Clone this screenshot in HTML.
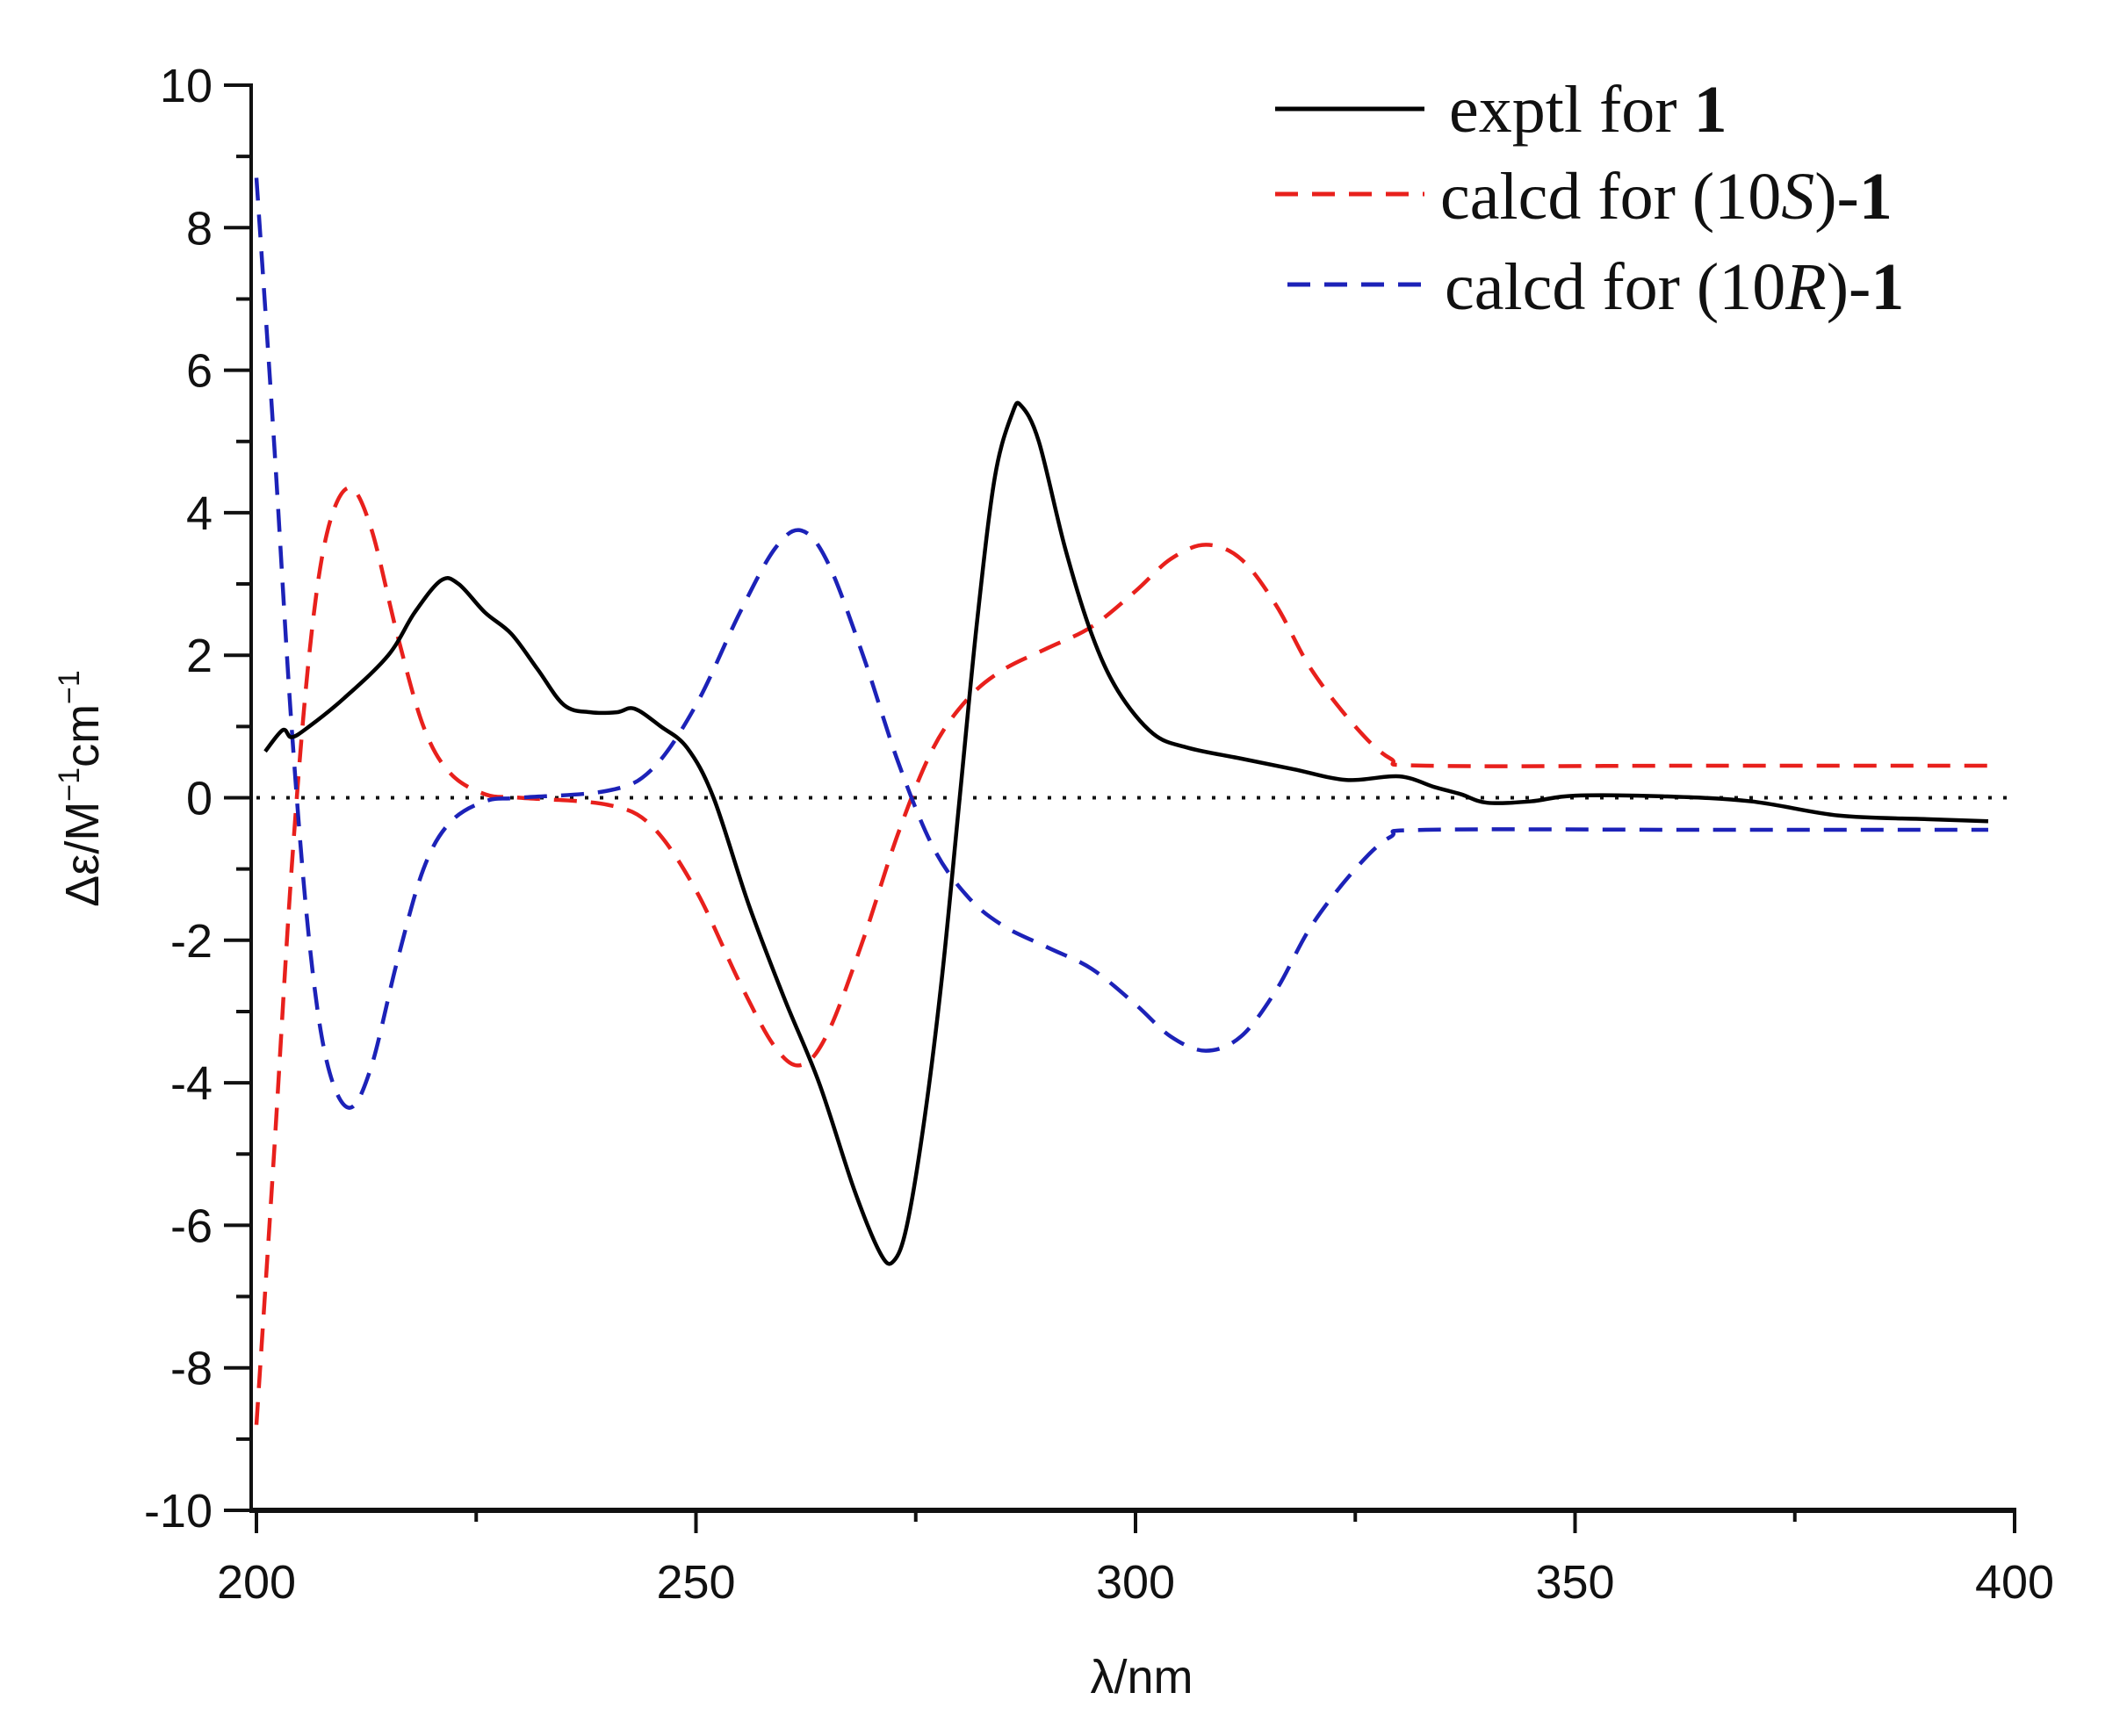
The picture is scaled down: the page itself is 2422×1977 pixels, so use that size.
<!DOCTYPE html>
<html><head><meta charset="utf-8"><style>
html,body{margin:0;padding:0;background:#fff;}
svg{display:block;}
.t{font-family:"Liberation Sans",Arial,sans-serif;font-size:54px;fill:#111;}
.l{font-family:"Liberation Serif","Times New Roman",serif;font-size:76px;fill:#111;}
</style></head><body>
<svg id="s" width="2422" height="1977" viewBox="0 0 2422 1977" xmlns="http://www.w3.org/2000/svg">
<rect width="2422" height="1977" fill="#fff"/>
<g id="axes" stroke="#111" fill="none"></g>
<g id="curves" fill="none"></g>
<g class="t" text-anchor="end" id="ylab"></g>
<g class="t" text-anchor="middle" id="xlab"></g>
<text class="t" x="1300" y="1928" text-anchor="middle" font-size="58">λ/nm</text>
<text class="t" transform="translate(112,898) rotate(-90)" text-anchor="middle" font-size="54">Δε/M<tspan dy="-22" font-size="34">−1</tspan><tspan dy="22">cm</tspan><tspan dy="-22" font-size="34">−1</tspan></text>
<line x1="1452" y1="124" x2="1622" y2="124" stroke="#000" stroke-width="5"/>
<line x1="1452" y1="221" x2="1622" y2="221" stroke="#e8201c" stroke-width="5" stroke-dasharray="26,16"/>
<line x1="1466" y1="324" x2="1622" y2="324" stroke="#1c22b8" stroke-width="5" stroke-dasharray="26,16"/>
<text class="l" x="1650" y="150">exptl for <tspan font-weight="bold">1</tspan></text>
<text class="l" x="1640" y="249">calcd for (10<tspan font-style="italic">S</tspan>)-<tspan font-weight="bold">1</tspan></text>
<text class="l" x="1645" y="352">calcd for (10<tspan font-style="italic">R</tspan>)-<tspan font-weight="bold">1</tspan></text>
</svg>
<script>
var NS="http://www.w3.org/2000/svg";
function X(n){return 292+(n-200)*10.01;}
function Y(v){return 908.5-v*81.15;}
function el(p,t,a){var e=document.createElementNS(NS,t);for(var k in a)e.setAttribute(k,a[k]);p.appendChild(e);return e;}
var ax=document.getElementById('axes');
el(ax,'line',{x1:286,y1:95,x2:286,y2:1722,'stroke-width':4});
el(ax,'line',{x1:284,y1:1720,x2:2296,y2:1720,'stroke-width':6});
var yl=document.getElementById('ylab');
for(var v=-10;v<=10;v++){var y=Y(v);var maj=(v%2==0);
 el(ax,'line',{x1:maj?255:269,y1:y,x2:286,y2:y,'stroke-width':4});
 if(maj){var t=el(yl,'text',{x:242,y:y+19});t.textContent=(v<0?'-':'')+Math.abs(v);}}
var xl=document.getElementById('xlab');
for(var n=200;n<=400;n+=25){var x=X(n);var maj=(n%50==0);
 el(ax,'line',{x1:x,y1:1720,x2:x,y2:maj?1746:1733,'stroke-width':4});
 if(maj){var t=el(xl,'text',{x:x,y:1820});t.textContent=n;}}
el(ax,'line',{x1:X(200),y1:Y(0),x2:X(400),y2:Y(0),'stroke-width':4,'stroke-dasharray':'4,13'});
function path(pts){var p=pts.map(function(a){return [X(a[0]),Y(a[1])];});
 var d='M'+p[0][0]+','+p[0][1];
 for(var i=0;i<p.length-1;i++){var p0=p[i-1]||p[i],p1=p[i],p2=p[i+1],p3=p[i+2]||p2;
  d+=' C'+(p1[0]+(p2[0]-p0[0])/6)+','+(p1[1]+(p2[1]-p0[1])/6)+' '+(p2[0]-(p3[0]-p1[0])/6)+','+(p2[1]-(p3[1]-p1[1])/6)+' '+p2[0]+','+p2[1];}
 return d;}
var blk=[[201,0.65],[203,0.95],[204,0.85],[206,1.0],[210,1.4],[215,2.0],[218,2.6],[221,3.05],[223,3.0],[226,2.6],[229,2.3],[232,1.8],[235,1.3],[238,1.2],[241,1.2],[243,1.25],[246,1.0],[249,0.7],[252,0],[256,-1.5],[260,-2.8],[264,-4.0],[268,-5.5],[271,-6.4],[272.5,-6.5],[274,-6.0],[276,-4.5],[278,-2.5],[280,0],[282,2.5],[284,4.5],[286,5.4],[287,5.5],[289,5.0],[292,3.5],[295,2.3],[298,1.5],[302,0.9],[306,0.7],[312,0.55],[318,0.4],[324,0.25],[330,0.3],[334,0.15],[337,0.05],[340,-0.07],[345,-0.05],[350,0.03],[360,0.02],[370,-0.05],[380,-0.25],[390,-0.3],[397,-0.33]];
var red=[[200,-8.8],[202,-5],[204,-1],[206,2],[208,3.7],[210.5,4.35],[213,3.8],[216,2.3],[219,1.0],[222,0.35],[226,0.05],[230,0],[240,-0.1],[245,-0.4],[250,-1.3],[255,-2.6],[259,-3.5],[262,-3.75],[265,-3.3],[269,-2.0],[273,-0.5],[277,0.7],[281,1.4],[285,1.8],[290,2.1],[295,2.4],[300,2.9],[304,3.35],[308,3.55],[312,3.35],[316,2.7],[320,1.8],[325,1.0],[329,0.55],[333,0.45],[365,0.45],[397,0.45]];
var blue=red.map(function(a){return [a[0],-a[1]];});blue[0]=[200,8.7];
var c=document.getElementById('curves');
el(c,'path',{d:path(red),stroke:'#e8201c','stroke-width':4.5,'stroke-dasharray':'26,16'});
el(c,'path',{d:path(blue),stroke:'#1c22b8','stroke-width':4.5,'stroke-dasharray':'26,16'});
el(c,'path',{d:path(blk),stroke:'#000','stroke-width':4.5});
</script>
</body></html>
